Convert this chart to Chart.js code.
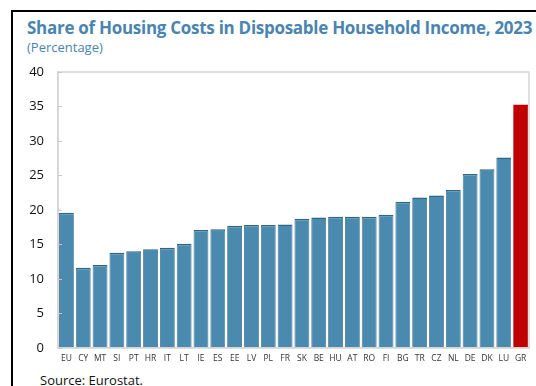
<!DOCTYPE html>
<html>
<head>
<meta charset="utf-8">
<script src="https://cdn.jsdelivr.net/npm/chart.js@4"></script>
<style>
  html, body { margin: 0; padding: 0; background: #fff; }
  body { width: 536px; height: 386px; position: relative; overflow: hidden; font-family: "Open Sans", sans-serif; }
  .frame { position: absolute; left: 11px; top: 10px; right: -10px; bottom: -10px; border-left: 2px solid #000; border-top: 2px solid #000; }
  .title { position: absolute; left: 27px; top: 16px; font-size: 17px; font-weight: 700; letter-spacing: -0.28px; color: #4a84b0; white-space: nowrap; }
  .subtitle { position: absolute; left: 27px; top: 38px; font-size: 13px; color: #4a84b0; }
  .source { position: absolute; left: 40px; top: 371px; font-size: 13px; color: #111; }
  #wrap { position: absolute; left: 0; top: 0; width: 536px; height: 386px; }
</style>
</head>
<body>
<div class="frame"></div>
<div class="title">Share of Housing Costs in Disposable Household Income, 2023</div>
<div class="subtitle">(Percentage)</div>
<div class="source">Source: Eurostat.</div>
<div id="wrap"><canvas id="grafico"></canvas></div>
<script>
const paises = ["EU","CY","MT","SI","PT","HR","IT","LT","IE","ES","EE","LV","PL","FR","SK","BE","HU","AT","RO","FI","BG","TR","CZ","NL","DE","DK","LU","GR"];
const valores = [19.6,11.6,12.0,13.8,14.0,14.3,14.5,15.1,17.1,17.2,17.7,17.8,17.8,17.9,18.7,18.9,19.0,19.0,19.0,19.3,21.2,21.8,22.1,22.9,25.2,25.9,27.6,35.3];
const destaque = "GR";
const yTicks = [0,5,10,15,20,25,30,35,40];

const azul = "#4a8aae";
const vermelho = "#c00000";

// moldura cinza do grafico + tracinhos do eixo y pra dentro
const moldura = {
  id: "moldura",
  afterDraw(chart) {
    const { ctx, chartArea: a, scales } = chart;
    ctx.save();
    ctx.strokeStyle = "#d6d6d6";
    ctx.lineWidth = 1.5;
    ctx.strokeRect(a.left, a.top, a.right - a.left, a.bottom - a.top);
    ctx.strokeStyle = "#c8c8c8";
    ctx.lineWidth = 1;
    yTicks.forEach(v => {
      const y = Math.round(scales.y.getPixelForValue(v)) + 0.5;
      ctx.beginPath();
      ctx.moveTo(a.left, y);
      ctx.lineTo(a.left + 4, y);
      ctx.stroke();
    });
    ctx.restore();
  }
};

new Chart(document.getElementById("grafico"), {
  type: "bar",
  data: {
    labels: paises,
    datasets: [{
      data: valores,
      backgroundColor: paises.map(p => p === destaque ? vermelho : azul),
      borderColor: paises.map(p => p === destaque ? vermelho : "#2f6585"),
      borderWidth: { top: 1.5, left: 0.8, right: 0.8, bottom: 0 },
      borderSkipped: false,
      barPercentage: 0.88,
      categoryPercentage: 1.0
    }]
  },
  options: {
    responsive: true,
    maintainAspectRatio: false,
    animation: false,
    layout: { padding: { left: 27, right: 7, top: 72, bottom: 16 } },
    plugins: { legend: { display: false }, tooltip: { enabled: false } },
    scales: {
      x: {
        grid: { display: false, drawTicks: false },
        border: { color: "#d6d6d6", width: 1.5 },
        ticks: { color: "#333", font: { family: "Open Sans", size: 8.5 }, padding: 6, maxRotation: 0, autoSkip: false }
      },
      y: {
        min: 0,
        max: 40,
        afterFit(scale) { scale.width = 31; },
        afterBuildTicks(scale) { scale.ticks = yTicks.map(v => ({ value: v })); },
        grid: { display: false, drawTicks: false },
        border: { color: "#d6d6d6", width: 1.5 },
        ticks: { color: "#111", font: { family: "Open Sans", size: 13 }, padding: 14 }
      }
    }
  },
  plugins: [moldura]
});
</script>
</body>
</html>
